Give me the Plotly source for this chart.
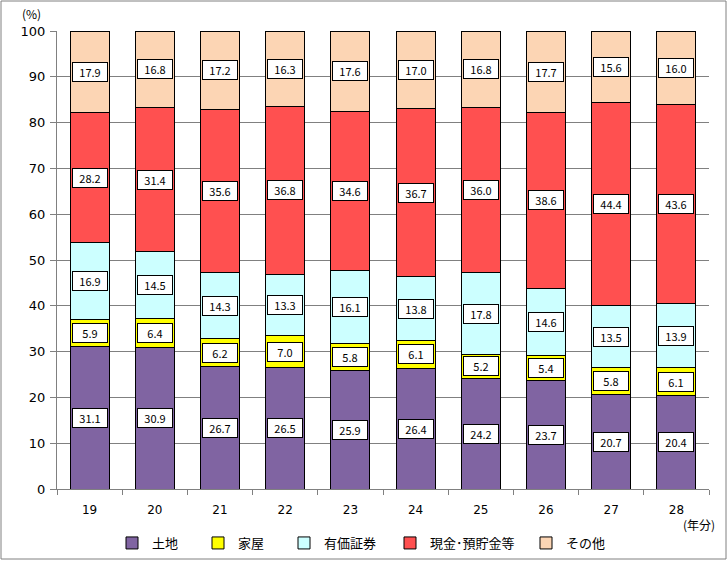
import plotly.graph_objects as go

years = ["19", "20", "21", "22", "23", "24", "25", "26", "27", "28"]
land = [31.1, 30.9, 26.7, 26.5, 25.9, 26.4, 24.2, 23.7, 20.7, 20.4]
house = [5.9, 6.4, 6.2, 7.0, 5.8, 6.1, 5.2, 5.4, 5.8, 6.1]
securities = [16.9, 14.5, 14.3, 13.3, 16.1, 13.8, 17.8, 14.6, 13.5, 13.9]
cash = [28.2, 31.4, 35.6, 36.8, 34.6, 36.7, 36.0, 38.6, 44.4, 43.6]
other = [17.9, 16.8, 17.2, 16.3, 17.6, 17.0, 16.8, 17.7, 15.6, 16.0]

series_names = ["土地", "家屋", "有価証券", "現金･預貯金等", "その他"]
series_values = [land, house, securities, cash, other]
series_colors = ["#8064A2", "#FFFF00", "#CCFFFF", "#FF5050", "#FCD5B4"]
y_ticks = [0, 10, 20, 30, 40, 50, 60, 70, 80, 90, 100]

W, H = 728, 561
ML, MR, MT, MB = 57, 19, 31, 72
FONT = "Noto Sans CJK JP, DejaVu Sans, sans-serif"
pw = W - ML - MR
ph = H - MT - MB

fig = go.Figure()
legend_px = [112, 198, 284, 390, 526]
legend_names = ["legend", "legend2", "legend3", "legend4", "legend5"]
for i, (name, vals, col) in enumerate(zip(series_names, series_values, series_colors)):
    fig.add_trace(go.Bar(
        x=years, y=vals, name=name,
        marker=dict(color=col, line=dict(color="black", width=1)),
        width=0.6, legend=legend_names[i], showlegend=True,
    ))

# value labels
cum = [0.0] * len(years)
for vals in series_values:
    for j, v in enumerate(vals):
        fig.add_annotation(
            x=j, y=cum[j] + v / 2, text=f"{v:.1f}", showarrow=False,
            font=dict(size=11, color="black", family=FONT),
            bgcolor="white", bordercolor="black", borderwidth=1, borderpad=2,
            width=30, height=14,
        )
        cum[j] += v

legend_layout = {}
for i, ln in enumerate(legend_names):
    legend_layout[ln] = dict(
        x=(legend_px[i] - ML) / pw, xanchor="left",
        y=-(543 - (H - MB)) / ph, yanchor="middle",
        orientation="h", bgcolor="rgba(0,0,0,0)",
        font=dict(size=13, family=FONT, color="black"),
        itemwidth=30, tracegroupgap=0,
    )

fig.update_layout(
    width=W, height=H,
    margin=dict(l=ML, r=MR, t=MT, b=MB, autoexpand=False),
    barmode="stack", bargap=0.4,
    paper_bgcolor="white", plot_bgcolor="white",
    font=dict(family=FONT, color="black"),
    **legend_layout,
    xaxis=dict(
        type="category", range=[-0.5, len(years) - 0.5],
        tickson="boundaries", ticks="outside", ticklen=5, tickangle=0,
        tickcolor="#808080", showline=True, linecolor="#808080", linewidth=1,
        showgrid=False, tickfont=dict(size=12, family="DejaVu Sans, sans-serif"),
        ticklabelstandoff=10, automargin=False,
    ),
    yaxis=dict(
        range=[0, 100], tickvals=y_ticks, ticks="outside", ticklen=6,
        tickcolor="#808080", showline=True, linecolor="#808080", linewidth=1,
        showgrid=True, gridcolor="#808080", gridwidth=1, zeroline=False,
        tickfont=dict(size=13, family="DejaVu Sans, sans-serif"), automargin=False,
        ticklabelstandoff=2,
    ),
)

fig.add_annotation(text="(%)", xref="paper", yref="paper",
                   x=-26 / pw, y=1 + 17 / ph, showarrow=False,
                   font=dict(size=12, family=FONT), xanchor="center", yanchor="middle")
fig.add_annotation(text="(年分)", xref="paper", yref="paper",
                   x=1 + 8 / pw, y=-(524 - (H - MB)) / ph, showarrow=False,
                   font=dict(size=12, family=FONT), xanchor="right", yanchor="middle")

# outer frame
fig.add_shape(type="rect", xref="paper", yref="paper",
              x0=-(ML - 1) / pw, x1=1 + (MR - 2) / pw,
              y0=-(MB - 2) / ph, y1=1 + (MT - 1) / ph,
              line=dict(color="#808080", width=1), fillcolor="rgba(0,0,0,0)")

fig.write_html("out.html", config={"displayModeBar": False},
               post_script="document.body.style.margin='0';")
